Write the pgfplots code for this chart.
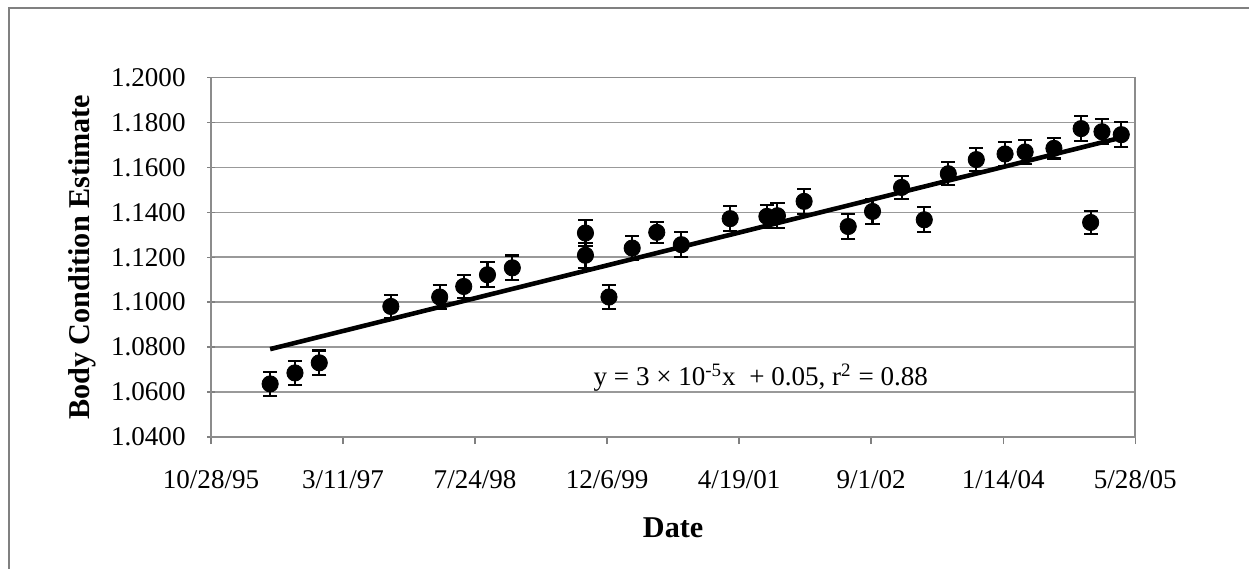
\documentclass[border=0pt]{standalone}
\usepackage{fontspec}
\setmainfont{Liberation Serif}
\usepackage{pgfplots}
\usepackage{pgfplotstable}
\pgfplotsset{compat=1.18}

% body condition estimates (Excel date serials)
\pgfplotstableread{
d v e
35224 1.0636 0.0052
35318 1.0685 0.0055
35410 1.0730 0.0055
35681 1.0981 0.0050
35866 1.1023 0.0055
35957 1.1070 0.0052
36047 1.1122 0.0055
36141 1.1153 0.0055
36418 1.1308 0.0058
36418 1.1209 0.0055
36507 1.1023 0.0052
36595 1.1241 0.0055
36688 1.1311 0.0048
36781 1.1256 0.0055
36966 1.1372 0.0055
37105 1.1382 0.0052
37145 1.1385 0.0055
37246 1.1449 0.0055
37413 1.1337 0.0057
37505 1.1404 0.0055
37615 1.1511 0.0052
37701 1.1367 0.0055
37792 1.1572 0.0052
37898 1.1635 0.0052
38007 1.1660 0.0052
38083 1.1669 0.0052
38192 1.1685 0.0045
38295 1.1773 0.0055
38331 1.1355 0.0050
38374 1.1759 0.0055
38447 1.1746 0.0055
}\bcdata

\begin{document}
\begin{tikzpicture}
\path[use as bounding box] (0,0) rectangle (600pt,273.3pt);
\draw[black!50, line width=1.2pt] (4.3pt,0) -- (4.3pt,269.5pt) -- (600pt,269.5pt);
\begin{axis}[
    at={(101.36pt,63.41pt)}, anchor=south west,
    scale only axis, width=444pt, height=172.6pt,
    xmin=35000, xmax=38500, ymin=1.04, ymax=1.2,
    scaled x ticks=false,
    xtick={35000,35500,36000,36500,37000,37500,38000,38500},
    xticklabels={10/28/95,3/11/97,7/24/98,12/6/99,4/19/01,9/1/02,1/14/04,5/28/05},
    ytick={1.04,1.06,1.08,1.10,1.12,1.14,1.16,1.18,1.20},
    yticklabel style={xshift=-7pt,
        /pgf/number format/fixed, /pgf/number format/fixed zerofill,
        /pgf/number format/precision=4, /pgf/number format/assume math mode=true},
    tick label style={font=\fontsize{13}{15}\selectfont},
    xticklabel style={yshift=-9pt},
    tick pos=left,
    xtick align=outside, ytick align=center,
    major tick length=3.4pt,
    tick style={black!50, line width=0.7pt},
    axis line style={black!45, line width=0.8pt},
    ymajorgrids, grid style={black!40, line width=0.8pt},
    xlabel={\textbf{Date}}, ylabel={\textbf{Body Condition Estimate}},
    every axis x label/.style={at={(axis description cs:0.5,0)}, anchor=center,
        yshift=-43.7pt, font=\fontsize{14.5}{17}\selectfont},
    every axis y label/.style={at={(axis description cs:-0.1396,0.5)}, anchor=center,
        rotate=90, font=\fontsize{14.5}{17}\selectfont},
]
\addplot[black, line width=2.2pt] coordinates {(35224,1.0791) (38447,1.1733)};
\addplot[only marks, mark=*, mark size=3.9pt, black,
    error bars/.cd, y dir=both, y explicit,
    error mark=-, error mark options={rotate=90, mark size=3.4pt, line width=1pt, black},
    error bar style={line width=1pt, black}]
    table[x=d, y=v, y error=e] {\bcdata};
\node[font=\fontsize{13}{15}\selectfont] at (axis cs:37082,1.0663)
    {y = 3 × 10\textsuperscript{-5}x\ \ + 0.05, r\textsuperscript{2} = 0.88};
\end{axis}
\end{tikzpicture}
\end{document}
